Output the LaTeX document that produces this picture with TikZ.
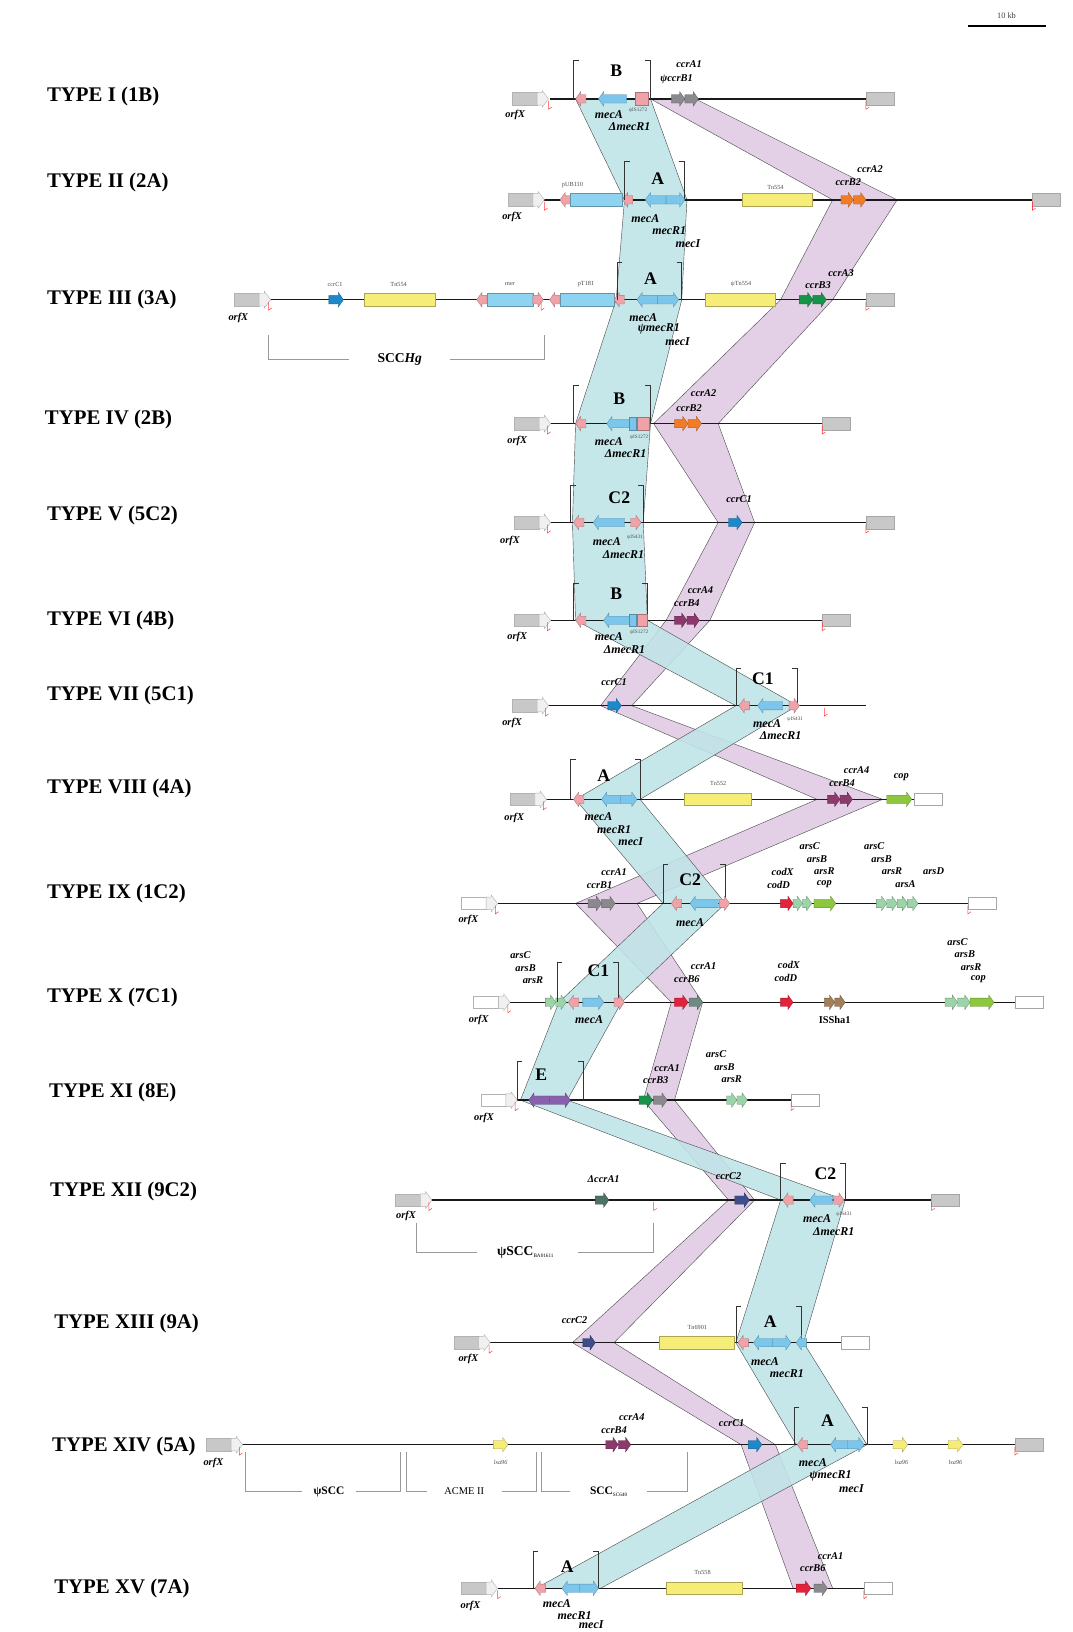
\documentclass[tikz,border=0pt]{standalone}
\usepackage{fontspec}
\setmainfont{Liberation Serif}
\definecolor{mecb}{HTML}{7CC6EC}
\definecolor{plb}{HTML}{8ED3F0}
\definecolor{isp}{HTML}{EFA3A8}
\definecolor{ccrg}{HTML}{8A8A8E}
\definecolor{ccro}{HTML}{F07C28}
\definecolor{ccrgn}{HTML}{17944A}
\definecolor{ccrc}{HTML}{1F88C9}
\definecolor{ccrp}{HTML}{8C3A6C}
\definecolor{tny}{HTML}{F6EC78}
\definecolor{copg}{HTML}{8DC63F}
\definecolor{arsg}{HTML}{9CD3A8}
\definecolor{codr}{HTML}{E3223C}
\definecolor{isbr}{HTML}{A27E5A}
\definecolor{mece}{HTML}{8A60AE}
\definecolor{ccrn}{HTML}{3E4E8A}
\definecolor{ccrdg}{HTML}{4E7264}
\definecolor{ccrgg}{HTML}{6F8A84}
\definecolor{bandb}{HTML}{BFE4E8}
\definecolor{bandp}{HTML}{E4D0E6}
\definecolor{orfg}{HTML}{C8C8C8}
\newcommand{\genR}[4]{\filldraw[fill=#4,draw=#4!70!black,line width=.3pt] (#1,#3-4)--(#2-5,#3-4)--(#2-5,#3-7)--(#2,#3)--(#2-5,#3+7)--(#2-5,#3+4)--(#1,#3+4)--cycle;}
\newcommand{\genL}[4]{\filldraw[fill=#4,draw=#4!70!black,line width=.3pt] (#2,#3-4)--(#1+5,#3-4)--(#1+5,#3-7)--(#1,#3)--(#1+5,#3+7)--(#1+5,#3+4)--(#2,#3+4)--cycle;}
\newcommand{\tbox}[4]{\filldraw[fill=#4,draw=#4!70!black,line width=.4pt] (#1,#3-6) rectangle (#2,#3+6);}
\newcommand{\rbox}[3]{\filldraw[fill=#3,draw=gray!70,line width=.4pt] (#1,#2-6) rectangle (#1+27,#2+6);}
\newcommand{\orfx}[3]{\filldraw[fill=#3,draw=gray!60,line width=.4pt] (#1,#2-6) rectangle (#1+24,#2+6);
 \filldraw[fill=gray!12,draw=gray!60,line width=.4pt] (#1+24,#2-6)--(#1+29,#2-6)--(#1+29,#2-8)--(#1+35,#2)--(#1+29,#2+8)--(#1+29,#2+6)--(#1+24,#2+6)--cycle;}
\newcommand{\rtick}[2]{\draw[red!75,line width=.5pt] (#1,#2+2)--(#1,#2+10)--(#1+3,#2+8);}
\newcommand{\brak}[4]{\draw[black!80,line width=.6pt] (#1+5,#3)--(#1,#3)--(#1,#4); \draw[black!80,line width=.6pt] (#2-5,#3)--(#2,#3)--(#2,#4);}
\newcommand{\isL}[2]{\genL{#1}{#1+10}{#2}{isp}}
\newcommand{\isR}[2]{\genR{#1}{#1+10}{#2}{isp}}
\begin{document}
\begin{tikzpicture}[x=1pt,y=-1pt,
 typelbl/.style={anchor=west,inner sep=0,font=\fontsize{20}{22}\selectfont\bfseries},
 cls/.style={inner sep=0,font=\fontsize{17}{18}\selectfont\bfseries},
 glbl/.style={inner sep=0,font=\fontsize{11.5}{12}\selectfont\bfseries\itshape},
 clbl/.style={inner sep=0,font=\fontsize{10}{11}\selectfont\bfseries\itshape},
 tinyl/.style={inner sep=0,font=\fontsize{6}{7}\selectfont,text=black!70},
 supl/.style={inner sep=0,font=\fontsize{5}{6}\selectfont,text=black!70},
 bb/.style={line width=1.4pt,black!90},
 band/.style={draw=gray!60!black,line width=.4pt},
 sccb/.style={draw=gray!80,line width=.6pt},
 sccl/.style={inner sep=0,font=\fontsize{13}{14}\selectfont\bfseries}]
\useasboundingbox[fill=white] (0,0) rectangle (1030,1568);
% scale bar
\draw[line width=1.2pt] (930,25)--(1005,25);
\node[inner sep=0,font=\fontsize{8}{9}\selectfont,text=black!75] (sb) at (967,15) {10 kb};
% ---------------- bands ----------------
\filldraw[band,fill=bandp] (625,95)--(800,192)--(750,288)--(628,407)--(690,502)--(640,596)--(577,678)--(785,768)--(553,868)--(645,963)--(618,1057)--(700,1153)--(550,1290)--(712,1388)--(762,1526)
 --(800,1526)--(745,1388)--(590,1290)--(725,1153)--(648,1057)--(675,963)--(612,868)--(848,768)--(607,678)--(682,596)--(725,502)--(690,407)--(800,288)--(862,192)--(668,95)--cycle;
\filldraw[band,fill=bandb,fill opacity=.88] (553,95)--(600,192)--(592,288)--(553,407)--(550,502)--(553,596)--(707,678)--(553,768)--(637,868)--(537,963)--(500,1057)--(750,1153)--(707,1290)--(765,1388)--(515,1526)
 --(577,1526)--(833,1388)--(772,1290)--(812,1153)--(545,1057)--(597,963)--(697,868)--(615,768)--(766,678)--(622,596)--(618,502)--(625,407)--(655,288)--(660,192)--(625,95)--cycle;
% ---------------- type labels ----------------
\node[typelbl] (t1) at (45,93) {TYPE I (1B)};
\node[typelbl] (t2) at (45,175) {TYPE II (2A)};
\node[typelbl] (t3) at (45,288) {TYPE III (3A)};
\node[typelbl] (t4) at (43,403) {TYPE IV (2B)};
\node[typelbl] (t5) at (45,495) {TYPE V (5C2)};
\node[typelbl] (t6) at (45,596) {TYPE VI (4B)};
\node[typelbl] (t7) at (45,668) {TYPE VII (5C1)};
\node[typelbl] (t8) at (45,758) {TYPE VIII (4A)};
\node[typelbl] (t9) at (45,858) {TYPE IX (1C2)};
\node[typelbl] (t10) at (45,958) {TYPE X (7C1)};
\node[typelbl] (t11) at (47,1050) {TYPE XI (8E)};
\node[typelbl] (t12) at (48,1145) {TYPE XII (9C2)};
\node[typelbl] (t13) at (52,1272) {TYPE XIII (9A)};
\node[typelbl] (t14) at (50,1390) {TYPE XIV (5A)};
\node[typelbl] (t15) at (52,1526) {TYPE XV (7A)};
% ---------------- Row I ----------------
\draw[bb] (528,95)--(832,95);
\orfx{492}{95}{orfg} \rtick{527}{95}
\rbox{832}{95}{orfg} \rtick{832}{95}
\brak{551}{625}{58}{95}
\isL{553}{95}
\genL{575}{602}{95}{mecb}
\tbox{610}{623}{95}{isp}
\genR{645}{658}{95}{ccrg}\genR{658}{671}{95}{ccrg}
\node[cls] (Ic) at (592,68) {B};
\node[clbl] (Ia) at (662,62) {ccrA1};
\node[clbl] (Ib) at (650,76) {ψccrB1};
\node[glbl] (Im) at (585,110) {mecA};
\node[supl] (Is) at (613,106) {ψIS1272};
\node[glbl] (Ir) at (605,122) {ΔmecR1};
\node[clbl] (Io) at (495,110) {orfX};
% ---------------- Row II ----------------
\draw[bb] (522,192)--(992,192);
\orfx{488}{192}{orfg} \rtick{523}{192}
\rbox{992}{192}{orfg} \rtick{992}{192}
\isL{538}{192}
\tbox{548}{598}{192}{plb}
\node[tinyl] (IIp) at (550,178) {pUB110};
\isL{598}{192}
\brak{600}{657}{155}{192}
\genL{620}{640}{192}{mecb}\genR{640}{658}{192}{mecb}
\tbox{713}{780}{192}{tny}
\node[tinyl] (IIt) at (745,180) {Tn554};
\genR{808}{820}{192}{ccro}\genR{820}{832}{192}{ccro}
\node[cls] (IIc) at (632,172) {A};
\node[clbl] (IIa) at (836,162) {ccrA2};
\node[clbl] (IIb) at (815,175) {ccrB2};
\node[glbl] (IIm) at (620,210) {mecA};
\node[glbl] (IIr) at (643,222) {mecR1};
\node[glbl] (IIi) at (661,234) {mecI};
\node[clbl] (IIo) at (492,208) {orfX};
% ---------------- Row III ----------------
\draw[bb] (258,288)--(832,288);
\orfx{225}{288}{orfg} \rtick{258}{288}
\rbox{832}{288}{orfg} \rtick{832}{288}
\genR{316}{330}{288}{ccrc}
\node[tinyl] (IIIc1) at (322,273) {ccrC1};
\tbox{350}{418}{288}{tny}
\node[tinyl] (IIIt) at (383,273) {Tn554};
\isL{458}{288}
\tbox{468}{512}{288}{plb}
\node[tinyl] (IIIm) at (490,273) {mer};
\isR{512}{288} \rtick{520}{288}
\isL{528}{288}
\tbox{538}{590}{288}{plb}
\node[tinyl] (IIIp) at (563,273) {pT181};
\isL{590}{288}
\brak{593}{655}{252}{288}
\genL{612}{632}{288}{mecb}\genR{632}{652}{288}{mecb}
\tbox{678}{745}{288}{tny}
\node[tinyl] (IIIt2) at (712,273) {ψTn554};
\genR{768}{781}{288}{ccrgn}\genR{781}{794}{288}{ccrgn}
\node[cls] (IIIc) at (625,268) {A};
\node[clbl] (IIIa) at (808,262) {ccrA3};
\node[clbl] (IIIb) at (786,274) {ccrB3};
\node[glbl] (IIIma) at (618,305) {mecA};
\node[glbl] (IIIr) at (633,316) {ψmecR1};
\node[glbl] (IIIi) at (651,328) {mecI};
\node[clbl] (IIIo) at (229,305) {orfX};
\draw[sccb] (258,322)--(258,345)--(335,345);
\draw[sccb] (432,345)--(523,345)--(523,322);
\node[sccl] (IIIs) at (384,345) {SCC\textit{Hg}};
% ---------------- Row IV ----------------
\draw[bb] (526,407)--(790,407);
\orfx{494}{407}{orfg} \rtick{526}{407}
\rbox{790}{407}{orfg} \rtick{790}{407}
\brak{551}{625}{370}{407}
\isL{553}{407}
\genL{583}{605}{407}{mecb}\tbox{605}{611}{407}{mecb}
\tbox{612}{624}{407}{isp}
\genR{648}{661}{407}{ccro}\genR{661}{674}{407}{ccro}
\node[cls] (IVc) at (595,383) {B};
\node[clbl] (IVa) at (676,378) {ccrA2};
\node[clbl] (IVb) at (662,392) {ccrB2};
\node[glbl] (IVm) at (585,424) {mecA};
\node[supl] (IVs) at (614,420) {ψIS1272};
\node[glbl] (IVr) at (601,436) {ΔmecR1};
\node[clbl] (IVo) at (497,424) {orfX};
% ---------------- Row V ----------------
\draw[bb] (526,502)--(832,502);
\orfx{494}{502}{orfg} \rtick{526}{502}
\rbox{832}{502}{orfg} \rtick{832}{502}
\brak{548}{618}{466}{502}
\isL{551}{502}
\genL{570}{600}{502}{mecb}
\isR{606}{502}
\genR{700}{713}{502}{ccrc}
\node[cls] (Vc) at (595,478) {C2};
\node[clbl] (Va) at (710,480) {ccrC1};
\node[glbl] (Vm) at (583,520) {mecA};
\node[supl] (Vs) at (610,516) {ψIS431};
\node[glbl] (Vr) at (599,533) {ΔmecR1};
\node[clbl] (Vo) at (490,520) {orfX};
% ---------------- Row VI ----------------
\draw[bb] (526,596)--(790,596);
\orfx{494}{596}{orfg} \rtick{526}{596}
\rbox{790}{596}{orfg} \rtick{790}{596}
\brak{551}{622}{560}{596}
\isL{553}{596}
\genL{580}{605}{596}{mecb}\tbox{605}{611}{596}{mecb}
\tbox{612}{622}{596}{isp}
\genR{648}{660}{596}{ccrp}\genR{660}{672}{596}{ccrp}
\node[cls] (VIc) at (592,570) {B};
\node[clbl] (VIa) at (673,567) {ccrA4};
\node[clbl] (VIb) at (660,579) {ccrB4};
\node[glbl] (VIm) at (585,612) {mecA};
\node[supl] (VIs) at (614,608) {ψIS1272};
\node[glbl] (VIr) at (600,624) {ΔmecR1};
\node[clbl] (VIo) at (497,612) {orfX};
% ---------------- Row VII ----------------
\draw[bb] (524,678)--(832,678);
\orfx{492}{678}{orfg} \rtick{524}{678}
\rtick{792}{678}
\genR{584}{597}{678}{ccrc}
\brak{707}{766}{642}{678}
\isL{710}{678}
\genL{728}{752}{678}{mecb}
\isR{758}{678}
\node[cls] (VIIc) at (733,652) {C1};
\node[clbl] (VIIa) at (590,655) {ccrC1};
\node[glbl] (VIIm) at (737,695) {mecA};
\node[supl] (VIIs) at (764,691) {ψIS431};
\node[glbl] (VIIr) at (750,707) {ΔmecR1};
\node[clbl] (VIIo) at (492,695) {orfX};
% ---------------- Row VIII ----------------
\draw[bb] (522,768)--(878,768);
\orfx{490}{768}{orfg} \rtick{522}{768}
\rbox{878}{768}{white}
\brak{548}{615}{730}{768}
\isL{551}{768}
\genL{578}{596}{768}{mecb}\genR{596}{612}{768}{mecb}
\tbox{657}{722}{768}{tny}
\node[tinyl] (VIIIt) at (690,753) {Tn552};
\genR{795}{807}{768}{ccrp}\genR{807}{819}{768}{ccrp}
\genR{852}{876}{768}{copg}
\node[cls] (VIIIc) at (580,745) {A};
\node[clbl] (VIIIa) at (823,740) {ccrA4};
\node[clbl] (VIIIb) at (809,752) {ccrB4};
\node[clbl] (VIIIp) at (866,747) {cop};
\node[glbl] (VIIIm) at (575,785) {mecA};
\node[glbl] (VIIIr) at (590,797) {mecR1};
\node[glbl] (VIIIi) at (606,809) {mecI};
\node[clbl] (VIIIo) at (494,786) {orfX};
% ---------------- Row IX ----------------
\draw[bb] (478,868)--(930,868);
\orfx{443}{868}{white} \rtick{476}{868}
\rbox{930}{868}{white} \rtick{930}{868}
\genR{565}{578}{868}{ccrg}\genR{578}{591}{868}{ccrg}
\brak{637}{697}{830}{868}
\isL{645}{868}
\genL{663}{690}{868}{mecb}
\isR{691}{868}
\genR{750}{762}{868}{codr}
\genR{762}{771}{868}{arsg}\genR{771}{780}{868}{arsg}
\genR{782}{803}{868}{copg}
\genR{842}{852}{868}{arsg}\genR{852}{862}{868}{arsg}\genR{862}{872}{868}{arsg}\genR{872}{882}{868}{arsg}
\node[cls] (IXc) at (663,845) {C2};
\node[clbl] (IXa) at (590,838) {ccrA1};
\node[clbl] (IXb) at (576,850) {ccrB1};
\node[glbl] (IXm) at (663,886) {mecA};
\node[clbl] (IXx) at (752,838) {codX};
\node[clbl] (IXd) at (748,850) {codD};
\node[clbl] (IXs1) at (778,813) {arsC};
\node[clbl] (IXs2) at (785,825) {arsB};
\node[clbl] (IXs3) at (792,837) {arsR};
\node[clbl] (IXs4) at (792,849) {cop};
\node[clbl] (IXs5) at (840,813) {arsC};
\node[clbl] (IXs6) at (847,825) {arsB};
\node[clbl] (IXs7) at (857,837) {arsR};
\node[clbl] (IXs8) at (897,837) {arsD};
\node[clbl] (IXs9) at (870,849) {arsA};
\node[clbl] (IXo) at (450,884) {orfX};
% ---------------- Row X ----------------
\draw[bb] (490,963)--(975,963);
\orfx{455}{963}{white} \rtick{488}{963}
\rbox{975}{963}{white}
\genR{524}{534}{963}{arsg}\genR{534}{544}{963}{arsg}
\brak{535}{594}{925}{963}
\isL{546}{963}
\genR{560}{580}{963}{mecb}
\isR{590}{963}
\genR{648}{661}{963}{codr}\genR{662}{675}{963}{ccrgg}
\genR{750}{762}{963}{codr}
\genR{792}{802}{963}{isbr}\genR{802}{812}{963}{isbr}
\genR{908}{920}{963}{arsg}\genR{920}{932}{963}{arsg}\genR{932}{955}{963}{copg}
\node[cls] (Xc) at (575,933) {C1};
\node[clbl] (Xs1) at (500,918) {arsC};
\node[clbl] (Xs2) at (505,930) {arsB};
\node[clbl] (Xs3) at (512,942) {arsR};
\node[clbl] (Xa) at (676,928) {ccrA1};
\node[clbl] (Xb) at (660,941) {ccrB6};
\node[clbl] (Xx) at (758,927) {codX};
\node[clbl] (Xd) at (755,940) {codD};
\node[inner sep=0,font=\fontsize{10}{11}\selectfont\bfseries] (Xis) at (802,980) {ISSha1};
\node[clbl] (Xs4) at (920,905) {arsC};
\node[clbl] (Xs5) at (927,917) {arsB};
\node[clbl] (Xs6) at (933,929) {arsR};
\node[clbl] (Xs7) at (940,941) {cop};
\node[glbl] (Xm) at (566,980) {mecA};
\node[clbl] (Xo) at (460,980) {orfX};
% ---------------- Row XI ----------------
\draw[bb] (497,1057)--(760,1057);
\orfx{462}{1057}{white} \rtick{495}{1057}
\rbox{760}{1057}{white} \rtick{760}{1057}
\brak{497}{560}{1020}{1057}
\genL{508}{528}{1057}{mece}\genR{528}{548}{1057}{mece}
\genR{614}{627}{1057}{ccrgn}\genR{628}{641}{1057}{ccrg}
\genR{698}{708}{1057}{arsg}\genR{708}{718}{1057}{arsg}
\node[cls] (XIc) at (520,1033) {E};
\node[clbl] (XIa) at (641,1026) {ccrA1};
\node[clbl] (XIb) at (630,1038) {ccrB3};
\node[clbl] (XIs1) at (688,1013) {arsC};
\node[clbl] (XIs2) at (696,1025) {arsB};
\node[clbl] (XIs3) at (703,1037) {arsR};
\node[clbl] (XIo) at (465,1074) {orfX};
% ---------------- Row XII ----------------
\draw[bb] (414,1153)--(895,1153);
\orfx{380}{1153}{orfg} \rtick{412}{1153}
\rbox{895}{1153}{orfg} \rtick{895}{1153}
\genR{572}{585}{1153}{ccrdg}
\rtick{628}{1153}
\genR{706}{720}{1153}{ccrn}
\brak{750}{812}{1118}{1153}
\isL{752}{1153}
\genL{778}{800}{1153}{mecb}
\isR{801}{1153}
\node[cls] (XIIc) at (793,1128) {C2};
\node[clbl] (XIId) at (580,1133) {ΔccrA1};
\node[clbl] (XIIa) at (700,1130) {ccrC2};
\node[glbl] (XIIm) at (785,1171) {mecA};
\node[supl] (XIIs) at (811,1167) {ψIS431};
\node[glbl] (XIIr) at (801,1183) {ΔmecR1};
\node[clbl] (XIIo) at (390,1168) {orfX};
\draw[sccb] (400,1175)--(400,1203)--(458,1203);
\draw[sccb] (555,1203)--(628,1203)--(628,1175);
\node[sccl] (XIIs2) at (505,1203) {ψSCC\textsubscript{\fontsize{5}{6}\selectfont\mdseries BA01611}};
% ---------------- Row XIII ----------------
\draw[bb] (470,1290)--(808,1290);
\orfx{436}{1290}{orfg} \rtick{470}{1290}
\rbox{808}{1290}{white}
\genR{560}{572}{1290}{ccrn}
\tbox{633}{705}{1290}{tny}
\node[tinyl] (XIIIt) at (670,1275) {Tn6901};
\brak{707}{770}{1255}{1290}
\isL{709}{1290}
\genL{724}{742}{1290}{mecb}\genR{742}{760}{1290}{mecb}
\genL{765}{775}{1290}{mecb}
\node[cls] (XIIIc) at (740,1270) {A};
\node[clbl] (XIIIa) at (552,1268) {ccrC2};
\node[glbl] (XIIIm) at (735,1308) {mecA};
\node[glbl] (XIIIr) at (756,1320) {mecR1};
\node[clbl] (XIIIo) at (450,1306) {orfX};
% ---------------- Row XIV ----------------
\draw[bb] (232,1388)--(975,1388);
\orfx{198}{1388}{orfg} \rtick{230}{1388}
\rbox{975}{1388}{orfg} \rtick{975}{1388}
\genR{474}{488}{1388}{tny}
\genR{582}{594}{1388}{ccrp}\genR{594}{606}{1388}{ccrp}
\genR{719}{732}{1388}{ccrc}
\brak{763}{833}{1352}{1388}
\isL{766}{1388}
\genL{798}{814}{1388}{mecb}\genR{814}{830}{1388}{mecb}
\genR{858}{872}{1388}{tny}
\genR{911}{925}{1388}{tny}
\node[cls] (XIVc) at (795,1365) {A};
\node[clbl] (XIVa) at (607,1362) {ccrA4};
\node[clbl] (XIVb) at (590,1374) {ccrB4};
\node[clbl] (XIVc1) at (703,1367) {ccrC1};
\node[supl,font=\fontsize{6}{7}\selectfont\itshape] (XIVy1) at (481,1405) {lsa96};
\node[supl,font=\fontsize{6}{7}\selectfont\itshape] (XIVy2) at (866,1405) {lsa96};
\node[supl,font=\fontsize{6}{7}\selectfont\itshape] (XIVy3) at (918,1405) {lsa96};
\node[glbl] (XIVm) at (781,1405) {mecA};
\node[glbl] (XIVr) at (798,1418) {ψmecR1};
\node[glbl] (XIVi) at (818,1430) {mecI};
\node[clbl] (XIVo) at (205,1406) {orfX};
\draw[sccb] (236,1395)--(236,1433)--(290,1433);
\draw[sccb] (342,1433)--(385,1433)--(385,1395);
\node[inner sep=0,font=\fontsize{11}{12}\selectfont\bfseries] (XIVs1) at (316,1433) {ψSCC};
\draw[sccb] (390,1395)--(390,1433)--(410,1433);
\draw[sccb] (482,1433)--(515,1433)--(515,1395);
\node[inner sep=0,font=\fontsize{10}{11}\selectfont] (XIVs2) at (446,1433) {ACME II};
\draw[sccb] (520,1395)--(520,1433)--(548,1433);
\draw[sccb] (622,1433)--(660,1433)--(660,1395);
\node[inner sep=0,font=\fontsize{11}{12}\selectfont\bfseries] (XIVs3) at (585,1433) {SCC\textsubscript{\fontsize{5}{6}\selectfont\mdseries SC640}};
% ---------------- Row XV ----------------
\draw[bb] (478,1526)--(830,1526);
\orfx{443}{1526}{orfg} \rtick{478}{1526}
\rbox{830}{1526}{white} \rtick{830}{1526}
\brak{512}{575}{1490}{1526}
\isL{514}{1526}
\genL{540}{557}{1526}{mecb}\genR{557}{575}{1526}{mecb}
\tbox{640}{713}{1526}{tny}
\node[tinyl] (XVt) at (675,1511) {Tn558};
\genR{765}{779}{1526}{codr}\genR{782}{795}{1526}{ccrg}
\node[cls] (XVc) at (545,1505) {A};
\node[clbl] (XVa) at (798,1495) {ccrA1};
\node[clbl] (XVb) at (781,1507) {ccrB6};
\node[glbl] (XVm) at (535,1541) {mecA};
\node[glbl] (XVr) at (552,1552) {mecR1};
\node[glbl] (XVi) at (568,1561) {mecI};
\node[clbl] (XVo) at (452,1543) {orfX};
\end{tikzpicture}
\end{document}
